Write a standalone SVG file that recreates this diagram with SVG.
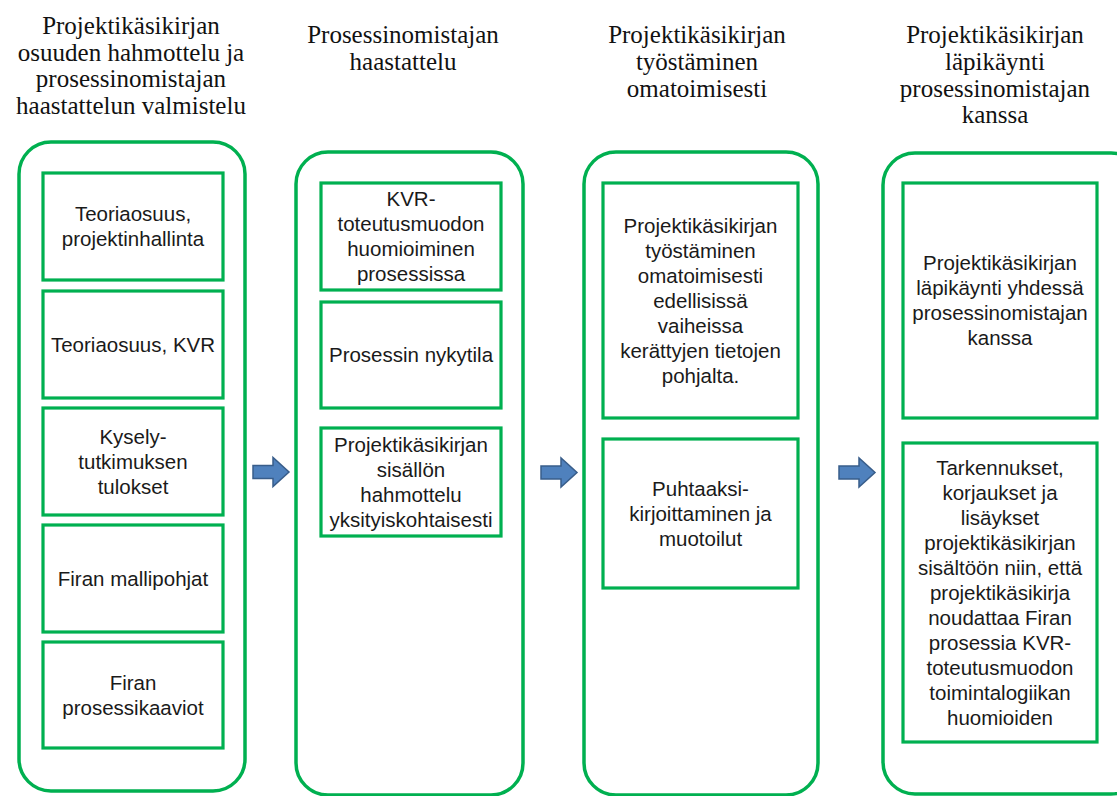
<svg xmlns="http://www.w3.org/2000/svg" width="1117" height="796" viewBox="0 0 1117 796">
<defs>
<style>
.outer{fill:none;stroke:#00B050;stroke-width:3.5}
.box{fill:#fff;stroke:#00B050;stroke-width:3.2}
.t{font-family:"Liberation Sans",Arial,sans-serif;font-size:20.5px;fill:#1a1a1a;text-anchor:middle}
.h{font-family:"Liberation Serif","Times New Roman",serif;font-size:25px;fill:#111;text-anchor:middle}
.arr{fill:#4F81BD;stroke:#385D8A;stroke-width:1.5}
</style>
</defs>
<rect width="1117" height="796" fill="#fff"/>

<g id="col1">
<rect class="outer" x="19" y="142" width="226" height="649" rx="32"/>
<text class="h"><tspan x="131" y="33.5">Projektikäsikirjan</tspan><tspan x="131" y="60.5">osuuden hahmottelu ja</tspan><tspan x="131" y="87">prosessinomistajan</tspan><tspan x="131" y="113.5">haastattelun valmistelu</tspan></text>
</g>
<g id="c1b1"><rect class="box" x="43" y="173" width="180" height="107"/><text class="t"><tspan x="133" y="221">Teoriaosuus,</tspan><tspan x="133" y="246">projektinhallinta</tspan></text></g>
<g id="c1b2"><rect class="box" x="43" y="291" width="180" height="107"/><text class="t" x="133" y="351.5">Teoriaosuus, KVR</text></g>
<g id="c1b3"><rect class="box" x="43" y="408" width="180" height="107"/><text class="t"><tspan x="133" y="443.5">Kysely-</tspan><tspan x="133" y="468.5">tutkimuksen</tspan><tspan x="133" y="493.5">tulokset</tspan></text></g>
<g id="c1b4"><rect class="box" x="43" y="525" width="180" height="107"/><text class="t" x="133" y="585.5">Firan mallipohjat</text></g>
<g id="c1b5"><rect class="box" x="43" y="642" width="180" height="106"/><text class="t"><tspan x="133" y="689.5">Firan</tspan><tspan x="133" y="714.5">prosessikaaviot</tspan></text></g>

<g id="col2">
<rect class="outer" x="296" y="152" width="227" height="643" rx="32"/>
<text class="h"><tspan x="403" y="43">Prosessinomistajan</tspan><tspan x="403" y="70">haastattelu</tspan></text>
</g>
<g id="c2b1"><rect class="box" x="321" y="183" width="180" height="107"/><text class="t"><tspan x="411" y="206">KVR-</tspan><tspan x="411" y="231">toteutusmuodon</tspan><tspan x="411" y="256">huomioiminen</tspan><tspan x="411" y="281">prosessissa</tspan></text></g>
<g id="c2b2"><rect class="box" x="321" y="302" width="180" height="106"/><text class="t" x="411" y="362">Prosessin nykytila</text></g>
<g id="c2b3"><rect class="box" x="321" y="428" width="180" height="108"/><text class="t"><tspan x="411" y="451.5">Projektikäsikirjan</tspan><tspan x="411" y="476.5">sisällön</tspan><tspan x="411" y="501.5">hahmottelu</tspan><tspan x="411" y="526.5">yksityiskohtaisesti</tspan></text></g>

<g id="col3">
<rect class="outer" x="584" y="152" width="234" height="643" rx="32"/>
<text class="h"><tspan x="697" y="43">Projektikäsikirjan</tspan><tspan x="697" y="70">työstäminen</tspan><tspan x="697" y="97">omatoimisesti</tspan></text>
</g>
<g id="c3b1"><rect class="box" x="603" y="183" width="195" height="235"/><text class="t"><tspan x="700.5" y="232.5">Projektikäsikirjan</tspan><tspan x="700.5" y="257.5">työstäminen</tspan><tspan x="700.5" y="282.5">omatoimisesti</tspan><tspan x="700.5" y="307.5">edellisissä</tspan><tspan x="700.5" y="332.5">vaiheissa</tspan><tspan x="700.5" y="357.5">kerättyjen tietojen</tspan><tspan x="700.5" y="382.5">pohjalta.</tspan></text></g>
<g id="c3b2"><rect class="box" x="603" y="439" width="195" height="149"/><text class="t"><tspan x="700.5" y="495.5">Puhtaaksi-</tspan><tspan x="700.5" y="520.5">kirjoittaminen ja</tspan><tspan x="700.5" y="545.5">muotoilut</tspan></text></g>

<g id="col4">
<rect class="outer" x="883" y="153" width="260" height="641" rx="32"/>
<text class="h"><tspan x="995" y="43">Projektikäsikirjan</tspan><tspan x="995" y="70">läpikäynti</tspan><tspan x="995" y="96.5">prosessinomistajan</tspan><tspan x="995" y="123">kanssa</tspan></text>
</g>
<g id="c4b1"><rect class="box" x="903" y="183" width="194" height="235"/><text class="t"><tspan x="1000" y="270">Projektikäsikirjan</tspan><tspan x="1000" y="295">läpikäynti yhdessä</tspan><tspan x="1000" y="320">prosessinomistajan</tspan><tspan x="1000" y="345">kanssa</tspan></text></g>
<g id="c4b2"><rect class="box" x="903" y="443" width="194" height="299"/><text class="t"><tspan x="1000" y="474.5">Tarkennukset,</tspan><tspan x="1000" y="499.5">korjaukset ja</tspan><tspan x="1000" y="524.5">lisäykset</tspan><tspan x="1000" y="549.5">projektikäsikirjan</tspan><tspan x="1000" y="574.5">sisältöön  niin, että</tspan><tspan x="1000" y="599.5">projektikäsikirja</tspan><tspan x="1000" y="624.5">noudattaa Firan</tspan><tspan x="1000" y="649.5">prosessia KVR-</tspan><tspan x="1000" y="674.5">toteutusmuodon</tspan><tspan x="1000" y="699.5">toimintalogiikan</tspan><tspan x="1000" y="724.5">huomioiden</tspan></text></g>

<g id="connectors">
<path class="arr" d="M253,465.5 H273 V457.5 L289,472 L273,486.5 V478.5 H253 Z"/>
<path class="arr" d="M541,466 H561 V458 L577,472.5 L561,487 V479 H541 Z"/>
<path class="arr" d="M839,466 H859 V458 L875,472.5 L859,487 V479 H839 Z"/>
</g>
</svg>
